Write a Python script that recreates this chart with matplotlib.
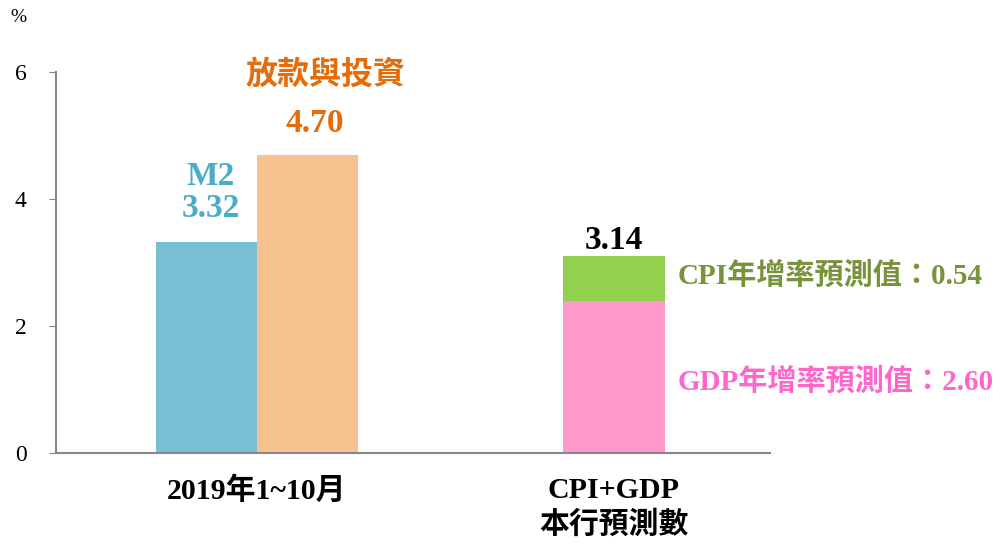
import numpy as np
import matplotlib
import matplotlib.pyplot as plt

matplotlib.use("Agg")

# data
categories = ["2019年1~10月", "CPI+GDP\n本行預測數"]
m2_value = 3.32
loans_value = 4.70
gdp_bar = 2.39      # drawn height of the GDP segment
cpi_bar = 0.71      # drawn height of the CPI segment
total_label = "3.14"
cpi_label = "CPI年增率預測值：0.54"
gdp_label = "GDP年增率預測值：2.60"
yticks = [0, 2, 4, 6]

serif_cjk = ["Liberation Serif", "Noto Sans CJK TC"]
plt.rcParams["font.family"] = serif_cjk

fig = plt.figure(figsize=(9.98, 5.44), dpi=100)
ax = fig.add_axes([56 / 998, 1 - 453 / 544, 714 / 998, 381 / 544])

w = 0.284
ax.bar(-w / 2, m2_value, width=w, color="#78BFD4")
ax.bar(w / 2, loans_value, width=w, color="#F8C290")
ax.bar(1, gdp_bar, width=w, color="#FF99CC")
ax.bar(1, cpi_bar, width=w, bottom=gdp_bar, color="#92D050")

ax.set_xlim(-0.563, 1.437)
ax.set_ylim(0, 6)
ax.set_yticks(yticks)
ax.set_yticklabels([str(t) for t in yticks], fontsize=17)
ax.set_xticks([0, 1])
ax.set_xticklabels(categories, fontsize=21.5, fontweight="bold", linespacing=1.3)
ax.tick_params(axis="x", length=0, pad=17)
ax.tick_params(axis="y", length=5, color="#868686", pad=16)
for s in ["top", "right"]:
    ax.spines[s].set_visible(False)
for s in ["left", "bottom"]:
    ax.spines[s].set_color("#868686")
    ax.spines[s].set_linewidth(1.5)

bold = dict(fontweight="bold", fontsize=24)
ax.text(-0.13, m2_value + 0.28, f"M2\n{m2_value:.2f}", color="#4BACC6",
        ha="center", va="bottom", linespacing=1.05, **bold)
ax.text(w / 2 + 0.02, loans_value + 0.25, f"{loans_value:.2f}", color="#E46C0A",
        ha="center", va="bottom", **bold)
ax.text(w / 2 + 0.05, loans_value + 1.0, "放款與投資", color="#E46C0A",
        ha="center", va="bottom", fontsize=23, fontweight="bold")
ax.text(1, gdp_bar + cpi_bar + 0.0, total_label, color="black",
        ha="center", va="bottom", **bold)
ax.text(1 + w / 2 + 0.035, 2.8, cpi_label, color="#77933C",
        ha="left", va="center", fontsize=21, fontweight="bold")
ax.text(1 + w / 2 + 0.035, 1.13, gdp_label, color="#FF66CC",
        ha="left", va="center", fontsize=21, fontweight="bold")

fig.text(18 / 998, 1 - 18 / 544, "%", fontsize=14, ha="center", va="center")

plt.savefig("out.png", dpi=100)
plt.close()
